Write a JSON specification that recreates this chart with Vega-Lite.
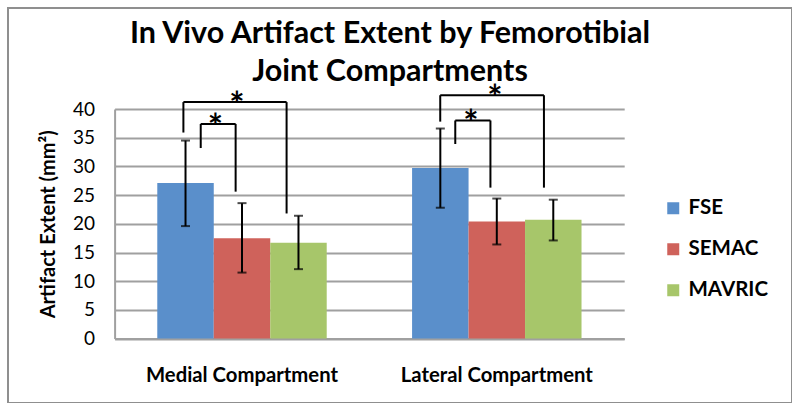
{
  "$schema": "https://vega.github.io/schema/vega-lite/v6.json",
  "width": 784,
  "height": 395,
  "autosize": {"type": "none"},
  "padding": {"left": 8, "top": 8, "right": 0, "bottom": 0},
  "background": "white",
  "config": {"view": {"stroke": "#8f8f8f", "strokeWidth": 2}},
  "title": {
    "text": ["In Vivo Artifact Extent by Femorotibial", "Joint Compartments"],
    "font": "Lato",
    "fontSize": 30.5,
    "fontWeight": "bold",
    "color": "#000000",
    "lineHeight": 38,
    "anchor": "middle",
    "frame": "group",
    "dx": -10,
    "offset": -79
  },
  "datasets": {
    "bars": [
      {"compartment": "Medial Compartment", "method": "FSE", "mean": 27.1, "lo": 19.6, "hi": 34.5},
      {"compartment": "Medial Compartment", "method": "SEMAC", "mean": 17.5, "lo": 11.5, "hi": 23.6},
      {"compartment": "Medial Compartment", "method": "MAVRIC", "mean": 16.7, "lo": 12.1, "hi": 21.4},
      {"compartment": "Lateral Compartment", "method": "FSE", "mean": 29.7, "lo": 22.8, "hi": 36.6},
      {"compartment": "Lateral Compartment", "method": "SEMAC", "mean": 20.4, "lo": 16.4, "hi": 24.4},
      {"compartment": "Lateral Compartment", "method": "MAVRIC", "mean": 20.7, "lo": 17.1, "hi": 24.2}
    ],
    "brackets": [
      {"id": "medial outer", "x1": 0.270, "x2": 0.675, "star": 0.480, "top": 41.2, "leftEnd": 35.9, "rightEnd": 21.8},
      {"id": "medial inner", "x1": 0.338, "x2": 0.475, "star": 0.396, "top": 37.4, "leftEnd": 33.2, "rightEnd": 25.6},
      {"id": "lateral outer", "x1": 1.278, "x2": 1.685, "star": 1.493, "top": 42.4, "leftEnd": 37.8, "rightEnd": 26.3},
      {"id": "lateral inner", "x1": 1.337, "x2": 1.475, "star": 1.398, "top": 38.0, "leftEnd": 33.9, "rightEnd": 26.3}
    ]
  },
  "resolve": {"scale": {"x": "independent"}},
  "layer": [
    {
      "data": {"name": "bars"},
      "layer": [
        {
          "mark": {"type": "bar"},
          "encoding": {
            "y": {"field": "mean", "type": "quantitative"},
            "color": {
              "field": "method",
              "type": "nominal",
              "sort": ["FSE", "SEMAC", "MAVRIC"],
              "scale": {"domain": ["FSE", "SEMAC", "MAVRIC"], "range": ["#5A8FCB", "#CF625B", "#A7C66A"]},
              "legend": {
                "title": null,
                "orient": "none",
                "legendX": 655,
                "legendY": 190,
                "padding": 0,
                "symbolType": "square",
                "symbolSize": 144,
                "symbolStrokeWidth": 0,
                "labelFont": "Lato",
                "labelFontSize": 20.5,
                "labelFontWeight": "bold",
                "labelColor": "#000000",
                "labelOffset": 5,
                "rowPadding": 20
              }
            }
          }
        },
        {
          "mark": {"type": "rule", "color": "#000000", "strokeWidth": 2},
          "encoding": {
            "y": {"field": "lo", "type": "quantitative"},
            "y2": {"field": "hi"}
          }
        },
        {
          "mark": {"type": "tick", "color": "#000000", "thickness": 2, "size": 9},
          "encoding": {"y": {"field": "lo", "type": "quantitative"}}
        },
        {
          "mark": {"type": "tick", "color": "#000000", "thickness": 2, "size": 9},
          "encoding": {"y": {"field": "hi", "type": "quantitative"}}
        }
      ],
      "encoding": {
        "x": {
          "field": "compartment",
          "type": "nominal",
          "sort": ["Medial Compartment", "Lateral Compartment"],
          "scale": {"range": [106.6, 616.2], "paddingInner": 0.335, "paddingOuter": 0.1675},
          "axis": {
            "title": null,
            "orient": "bottom",
            "offset": -64.4,
            "ticks": false,
            "labelPadding": 27,
            "labelAngle": 0,
            "labelLimit": 400,
            "labelFont": "Lato",
            "labelFontSize": 20.3,
            "labelFontWeight": "bold",
            "labelColor": "#000000",
            "domainColor": "#a0a0a0",
            "domainWidth": 2,
            "grid": false
          }
        },
        "xOffset": {
          "field": "method",
          "type": "nominal",
          "sort": ["FSE", "SEMAC", "MAVRIC"],
          "scale": {"paddingInner": 0, "paddingOuter": 0}
        },
        "y": {
          "scale": {"domain": [0, 40], "range": [330.6, 101], "nice": false},
          "axis": {
            "title": "Artifact Extent (mm²)",
            "titleFont": "Lato",
            "titleFontSize": 20,
            "titleFontWeight": "bold",
            "titleColor": "#000000",
            "titlePadding": 14,
            "offset": -106.6,
            "values": [0, 5, 10, 15, 20, 25, 30, 35, 40],
            "ticks": false,
            "labelPadding": 20,
            "labelFont": "Lato",
            "labelFontSize": 19,
            "labelColor": "#000000",
            "domainColor": "#a0a0a0",
            "domainWidth": 2,
            "grid": true,
            "gridColor": "#a0a0a0",
            "gridWidth": 1.8
          }
        }
      }
    },
    {
      "data": {"name": "brackets"},
      "layer": [
        {
          "mark": {"type": "rule", "color": "#000000", "strokeWidth": 2},
          "encoding": {
            "x": {"field": "x1", "type": "quantitative"},
            "y": {"field": "leftEnd", "type": "quantitative"},
            "y2": {"field": "top"}
          }
        },
        {
          "mark": {"type": "rule", "color": "#000000", "strokeWidth": 2},
          "encoding": {
            "x": {"field": "x2", "type": "quantitative"},
            "y": {"field": "rightEnd", "type": "quantitative"},
            "y2": {"field": "top"}
          }
        },
        {
          "mark": {"type": "rule", "color": "#000000", "strokeWidth": 2},
          "encoding": {
            "x": {"field": "x1", "type": "quantitative"},
            "x2": {"field": "x2"},
            "y": {"field": "top", "type": "quantitative"}
          }
        },
        {
          "mark": {"type": "text", "text": "*", "font": "Lato", "fontSize": 36, "fontWeight": "bold", "color": "#000000", "baseline": "alphabetic", "dy": 16},
          "encoding": {
            "x": {"field": "star", "type": "quantitative"},
            "y": {"field": "top", "type": "quantitative"}
          }
        }
      ],
      "encoding": {
        "x": {"scale": {"domain": [0, 2], "range": [106.6, 616.2], "nice": false, "zero": false}, "axis": null}
      }
    }
  ]
}
